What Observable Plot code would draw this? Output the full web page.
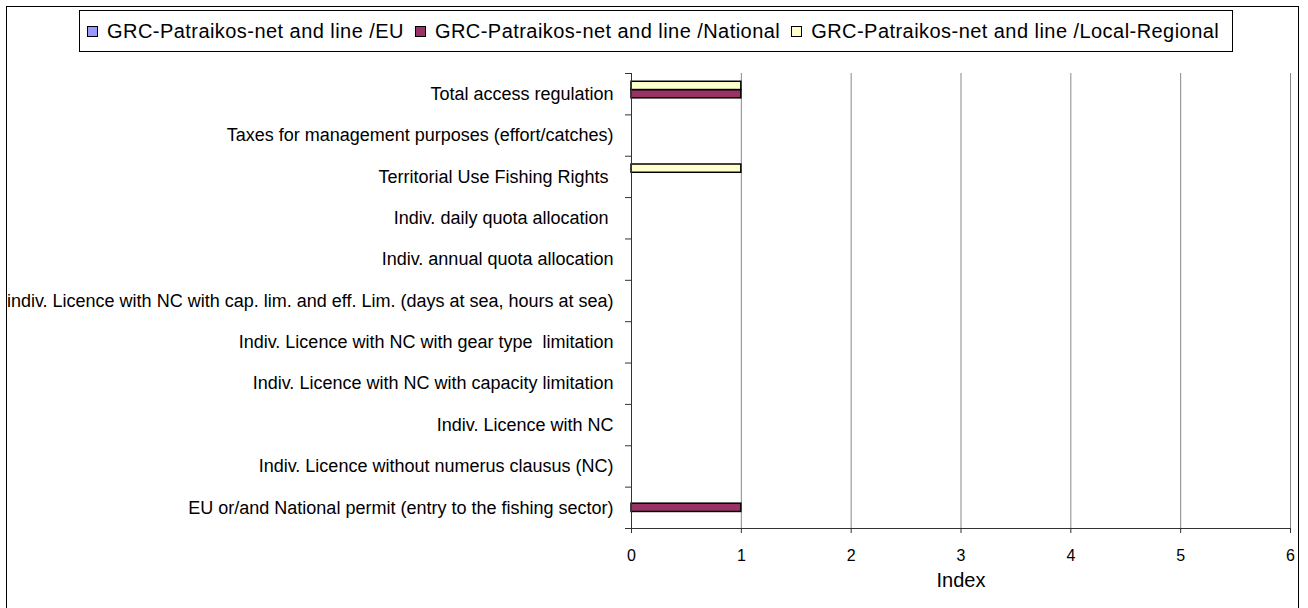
<!DOCTYPE html>
<html>
<head>
<meta charset="utf-8">
<script src="https://cdn.jsdelivr.net/npm/d3@7"></script>
<script src="https://cdn.jsdelivr.net/npm/@observablehq/plot@0.6"></script>
<style>
  body { margin: 0; background: #fff; }
  #wrap { position: relative; width: 1308px; height: 608px; overflow: hidden; background: #fff; font-family: "Liberation Sans", Arial, sans-serif; }
  #chart { position: absolute; left: 0; top: 0; }
  #frame { position: absolute; left: 6px; top: 6px; width: 1293px; height: 640px; border: 1px solid #000; box-sizing: border-box; pointer-events: none; }
  #legend { position: absolute; left: 79px; top: 10px; width: 1154px; height: 42px; border: 1px solid #000; box-sizing: border-box; background: #fff;
            display: flex; align-items: center; padding-left: 7px; font-size: 20px; letter-spacing: 0.45px; white-space: nowrap; color: #000; }
  #legend .item { display: flex; align-items: center; margin-right: 11px; }
  #legend .sw { width: 11px; height: 11px; box-sizing: border-box; border: 1.5px solid #000; margin-right: 9px; }
  g[aria-label="category-labels"] text { letter-spacing: 0.7px; white-space: pre; }
</style>
</head>
<body>
<div id="wrap">
  <div id="chart"></div>
  <div id="legend"></div>
  <div id="frame"></div>
</div>
<script>
const categories = [
  "Total access regulation",
  "Taxes for management purposes (effort/catches)",
  "Territorial Use Fishing Rights ",
  "Indiv. daily quota allocation ",
  "Indiv. annual quota allocation",
  "indiv. Licence with NC with cap. lim. and eff. Lim. (days at sea, hours at sea)",
  "Indiv. Licence with NC with gear type  limitation",
  "Indiv. Licence with NC with capacity limitation",
  "Indiv. Licence with NC",
  "Indiv. Licence without numerus clausus (NC)",
  "EU or/and National permit (entry to the fishing sector)"
];
const seriesNames = [
  "GRC-Patraikos-net and line /EU",
  "GRC-Patraikos-net and line /National",
  "GRC-Patraikos-net and line /Local-Regional"
];
const euValues       = [0, 0, 0, 0, 0, 0, 0, 0, 0, 0, 0];
const nationalValues = [1, 0, 0, 0, 0, 0, 0, 0, 0, 0, 1];
const localValues    = [1, 0, 1, 0, 0, 0, 0, 0, 0, 0, 0];
const xTicks = [0, 1, 2, 3, 4, 5, 6];
const seriesColors = ["#9999FF", "#993366", "#FFFFCC"];
const axisTitle = "Index";

// Build table: within each category band, series stack top-to-bottom as Local, National, EU
const seriesValues = [euValues, nationalValues, localValues];
const gap = 0.2;            // outer gap fraction of a band
const barFrac = (1 - 2 * gap) / seriesNames.length;
const rows = [];
seriesValues.forEach((vals, s) => {
  vals.forEach((v, i) => {
    if (v > 0) rows.push({category: categories[i], series: seriesNames[s], index: i, slot: seriesNames.length - 1 - s, value: v});
  });
});

const plot = Plot.plot({
  width: 1308,
  height: 608,
  marginLeft: 631,
  marginRight: 18,
  marginTop: 73,
  marginBottom: 80,
  style: {fontFamily: "'Liberation Sans', Arial, sans-serif", fontSize: "16px", background: "transparent", color: "#000"},
  x: {domain: [0, 6]},
  y: {domain: [0, categories.length], reverse: true, axis: null},
  color: {domain: seriesNames, range: seriesColors},
  marks: [
    Plot.ruleX(xTicks.slice(1), {stroke: "#888", strokeWidth: 1}),
    Plot.rectX(rows, {
      x1: 0,
      x2: "value",
      y1: d => d.index + gap + d.slot * barFrac,
      y2: d => d.index + gap + (d.slot + 1) * barFrac,
      fill: "series",
      stroke: "#000",
      strokeWidth: 1.5
    }),
    Plot.ruleX([0], {stroke: "#333", strokeWidth: 1}),
    Plot.ruleY([categories.length], {stroke: "#333", strokeWidth: 1}),
    Plot.axisY({ticks: d3.range(categories.length + 1), tickSize: 6, tickFormat: () => "", label: null, stroke: "#333"}),
    Plot.axisX(xTicks, {tickSize: 5, tickPadding: 16, fontSize: 16, label: null, stroke: "#333"}),
    Plot.text(categories, {
      x: 0,
      y: (d, i) => i + 0.5,
      text: d => d,
      textAnchor: "end",
      dx: -18,
      fontSize: 18,
      ariaLabel: "category-labels"
    }),
    Plot.text([axisTitle], {frameAnchor: "bottom", text: d => d, dy: 58, fontSize: 20})
  ]
});
document.getElementById("chart").appendChild(plot);

const legend = d3.select("#legend");
seriesNames.forEach((name, i) => {
  const item = legend.append("div").attr("class", "item");
  item.append("div").attr("class", "sw").style("background", seriesColors[i]);
  item.append("span").text(name);
});
</script>
</body>
</html>
